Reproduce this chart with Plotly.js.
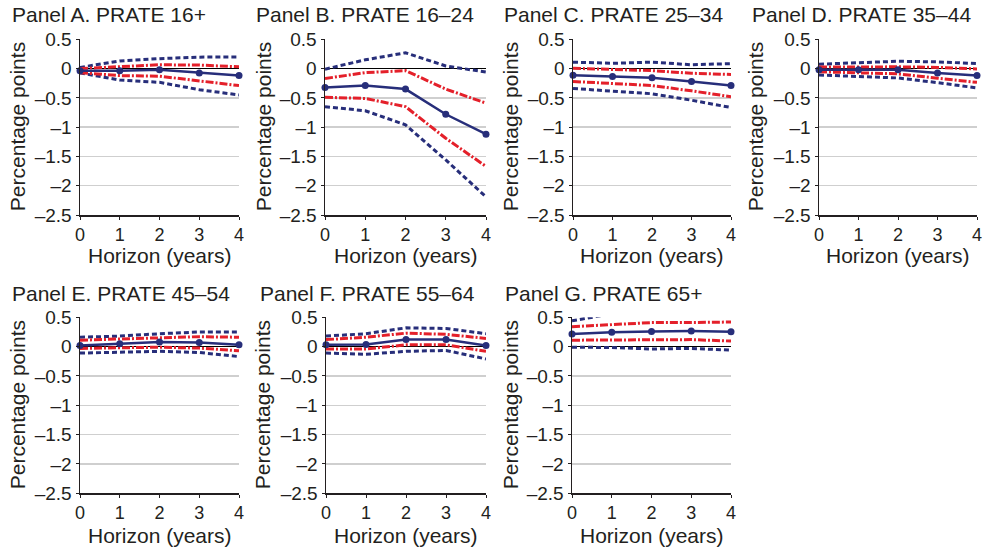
<!DOCTYPE html>
<html>
<head>
<meta charset="utf-8">
<script src="https://cdn.plot.ly/plotly-3.0.1.min.js"></script>
<style>html,body{margin:0;padding:0;background:#fff;}#chart{width:986px;height:548px;}</style>
</head>
<body>
<div id="chart"></div>
<script>
// ---------- DATA ----------
const horizon = [0, 1, 2, 3, 4];
const panelTitles = ["Panel A. PRATE 16+", "Panel B. PRATE 16–24", "Panel C. PRATE 25–34",
  "Panel D. PRATE 35–44", "Panel E. PRATE 45–54", "Panel F. PRATE 55–64", "Panel G. PRATE 65+"];
const yTickVals = [0.5, 0, -0.5, -1, -1.5, -2, -2.5];
const yTickText = ["0.5", "0", "–0.5", "–1", "–1.5", "–2", "–2.5"];
const xTickVals = [0, 1, 2, 3, 4];
const xTickText = ["0", "1", "2", "3", "4"];

// Panel A
const A_est = [-0.035, -0.035, -0.02, -0.075, -0.12];
const A_hi90 = [0.02, 0.13, 0.17, 0.195, 0.2];
const A_lo90 = [-0.075, -0.195, -0.235, -0.36, -0.45];
const A_hi68 = [0.0, 0.035, 0.065, 0.06, 0.03];
const A_lo68 = [-0.07, -0.12, -0.13, -0.21, -0.29];
// Panel B
const B_est = [-0.325, -0.29, -0.35, -0.78, -1.12];
const B_hi90 = [-0.01, 0.15, 0.27, 0.045, -0.06];
const B_lo90 = [-0.65, -0.72, -0.96, -1.56, -2.19];
const B_hi68 = [-0.17, -0.07, -0.035, -0.35, -0.59];
const B_lo68 = [-0.49, -0.51, -0.65, -1.19, -1.67];
// Panel C
const C_est = [-0.115, -0.135, -0.155, -0.22, -0.29];
const C_hi90 = [0.11, 0.09, 0.11, 0.065, 0.085];
const C_lo90 = [-0.34, -0.385, -0.43, -0.54, -0.665];
const C_hi68 = [0.005, -0.02, -0.035, -0.08, -0.1];
const C_lo68 = [-0.22, -0.25, -0.29, -0.38, -0.48];
// Panel D
const D_est = [-0.02, -0.02, -0.02, -0.075, -0.12];
const D_hi90 = [0.075, 0.1, 0.125, 0.115, 0.085];
const D_lo90 = [-0.11, -0.13, -0.16, -0.24, -0.33];
const D_hi68 = [0.025, 0.03, 0.03, 0.02, -0.005];
const D_lo68 = [-0.055, -0.075, -0.09, -0.165, -0.235];
// Panel E
const E_est = [0.02, 0.05, 0.08, 0.07, 0.03];
const E_hi90 = [0.16, 0.18, 0.22, 0.25, 0.25];
const E_lo90 = [-0.11, -0.09, -0.08, -0.1, -0.17];
const E_hi68 = [0.11, 0.13, 0.16, 0.17, 0.16];
const E_lo68 = [-0.03, -0.015, -0.01, -0.025, -0.07];
// Panel F
const F_est = [0.03, 0.035, 0.12, 0.12, 0.02];
const F_hi90 = [0.18, 0.22, 0.32, 0.31, 0.22];
const F_lo90 = [-0.11, -0.13, -0.08, -0.065, -0.21];
const F_hi68 = [0.12, 0.16, 0.23, 0.21, 0.14];
const F_lo68 = [-0.04, -0.04, 0.03, 0.03, -0.08];
// Panel G
const G_est = [0.215, 0.245, 0.26, 0.265, 0.255];
const G_hi90 = [0.44, 0.56, 0.62, 0.62, 0.6];
const G_lo90 = [-0.01, -0.015, -0.04, -0.03, -0.06];
const G_hi68 = [0.34, 0.38, 0.41, 0.41, 0.42];
const G_lo68 = [0.11, 0.11, 0.11, 0.12, 0.095];

const panels = [
  [A_est, A_hi90, A_lo90, A_hi68, A_lo68],
  [B_est, B_hi90, B_lo90, B_hi68, B_lo68],
  [C_est, C_hi90, C_lo90, C_hi68, C_lo68],
  [D_est, D_hi90, D_lo90, D_hi68, D_lo68],
  [E_est, E_hi90, E_lo90, E_hi68, E_lo68],
  [F_est, F_hi90, F_lo90, F_hi68, F_lo68],
  [G_est, G_hi90, G_lo90, G_hi68, G_lo68]
];

// ---------- LAYOUT GEOMETRY (pixels) ----------
const W = 986, H = 548;
const xPix = [[80, 239], [325, 486], [573, 731], [819, 977], [80, 239], [326, 486], [572, 731]];
const rowPix = [[39.3, 215], [317.3, 493.3]];
const titleX = [10, 254, 502, 750, 10, 258, 503];
const titleY = [15, 293];
const yTitleX = [17, 263, 510, 755, 17, 262, 510];
const xTitleY = [255, 535];

const NAVY = "#272e7a";
const RED = "#e4202a";
const FONT = "Liberation Sans, Arial, Helvetica, sans-serif";
const TXT = "#231f20";

const traces = [];
const layout = {
  width: W, height: H,
  margin: {l: 0, r: 0, t: 0, b: 0},
  paper_bgcolor: "#fff", plot_bgcolor: "#fff",
  showlegend: false,
  font: {family: FONT, color: TXT, size: 18},
  annotations: []
};

panels.forEach((p, i) => {
  const n = i + 1;
  const xa = "x" + (n === 1 ? "" : n);
  const ya = "y" + (n === 1 ? "" : n);
  const row = i < 4 ? 0 : 1;
  const [est, hi90, lo90, hi68, lo68] = p;

  [hi90, lo90].forEach(arr => traces.push({
    x: horizon, y: arr, xaxis: xa, yaxis: ya, type: "scatter", mode: "lines",
    line: {color: NAVY, width: 3, dash: "5px,3px"}, hoverinfo: "skip"
  }));
  [hi68, lo68].forEach(arr => traces.push({
    x: horizon, y: arr, xaxis: xa, yaxis: ya, type: "scatter", mode: "lines",
    line: {color: RED, width: 3, dash: "8px,2px,2px,2px"}, hoverinfo: "skip"
  }));
  traces.push({
    x: horizon, y: est, xaxis: xa, yaxis: ya, type: "scatter", mode: "lines+markers",
    line: {color: NAVY, width: 2.5}, marker: {color: NAVY, size: 7},
    cliponaxis: false
  });

  const xd = [xPix[i][0] / W, xPix[i][1] / W];
  const yd = [1 - rowPix[row][1] / H, 1 - rowPix[row][0] / H];
  layout["xaxis" + (n === 1 ? "" : n)] = {
    domain: xd, anchor: ya, range: [0, 4],
    tickvals: xTickVals, ticktext: xTickText,
    showgrid: false, zeroline: false,
    showline: true, linecolor: "#231f20", linewidth: 1.5,
    ticks: "outside", ticklen: 3, tickcolor: "#231f20",
    tickfont: {size: 18, family: FONT, color: TXT}
  };
  layout["yaxis" + (n === 1 ? "" : n)] = {
    domain: yd, anchor: xa, range: [-2.5, 0.5],
    tickvals: yTickVals, ticktext: yTickText,
    showgrid: true, gridcolor: "#cfcfcf", gridwidth: 1.5,
    zeroline: true, zerolinecolor: "#000", zerolinewidth: 1.2,
    showline: true, linecolor: "#231f20", linewidth: 1.5,
    ticks: "outside", ticklen: 3, tickcolor: "#231f20",
    tickfont: {size: 19, family: FONT, color: TXT}
  };

  layout.annotations.push({
    text: panelTitles[i], xref: "paper", yref: "paper",
    x: titleX[i] / W, y: 1 - titleY[row] / H, xanchor: "left", yanchor: "middle",
    showarrow: false, font: {size: 21, family: FONT, color: TXT}
  });
  layout.annotations.push({
    text: "Percentage points", xref: "paper", yref: "paper", textangle: -90,
    x: yTitleX[i] / W, y: 1 - (rowPix[row][0] + rowPix[row][1]) / 2 / H,
    xanchor: "center", yanchor: "middle",
    showarrow: false, font: {size: 21, family: FONT, color: TXT}
  });
  layout.annotations.push({
    text: "Horizon (years)", xref: "paper", yref: "paper",
    x: (xPix[i][0] + xPix[i][1]) / 2 / W, y: 1 - xTitleY[row] / H,
    xanchor: "center", yanchor: "middle",
    showarrow: false, font: {size: 21, family: FONT, color: TXT}
  });
});

Plotly.newPlot("chart", traces, layout, {staticPlot: true, displayModeBar: false});
</script>
</body>
</html>
